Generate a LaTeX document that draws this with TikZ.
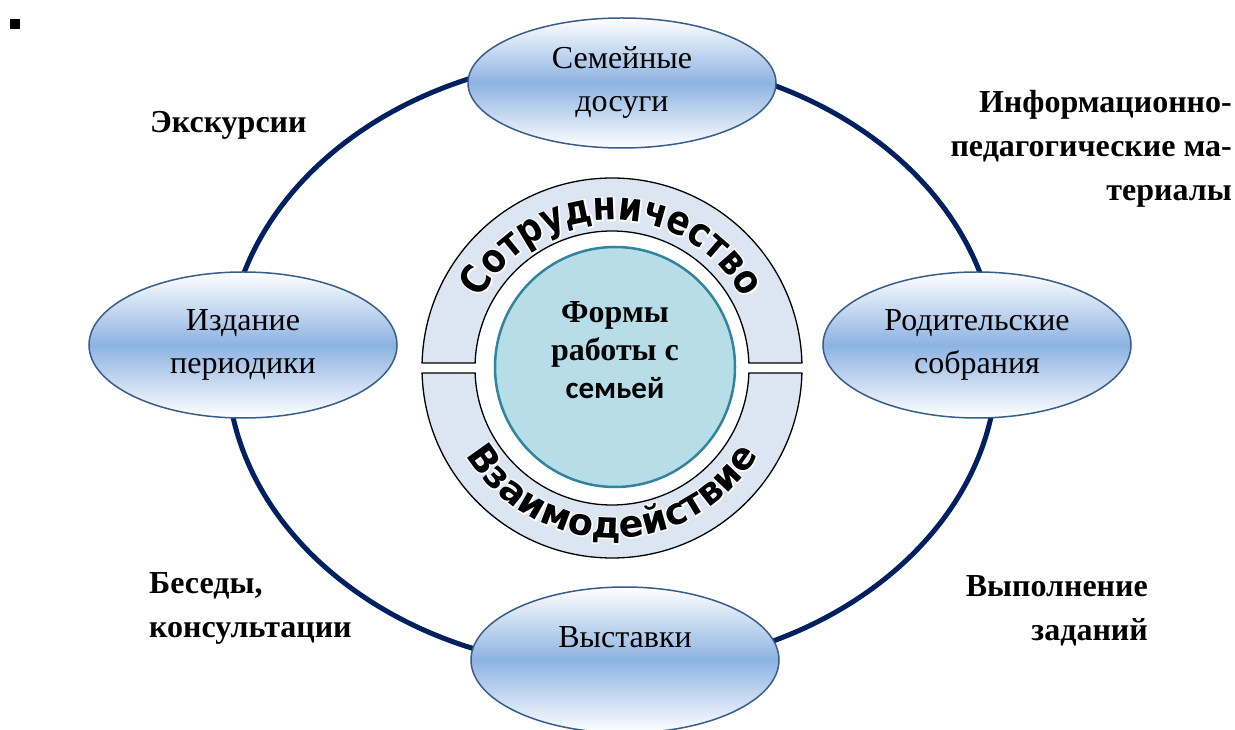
\documentclass[tikz,border=0pt]{standalone}
\usepackage{fontspec}
\setmainfont{Liberation Serif}
\newfontfamily\arcA{DejaVu Sans Bold}[FakeStretch=0.85]
\newfontfamily\arcAh{DejaVu Sans Bold}[FakeStretch=0.85,FakeBold=7]
\newfontfamily\arcB{DejaVu Sans Bold}[FakeStretch=0.99]
\newfontfamily\arcBh{DejaVu Sans Bold}[FakeStretch=0.99,FakeBold=7]
\newfontfamily\calfamily{Carlito}
\usetikzlibrary{decorations.text,shapes.geometric}
\definecolor{navy}{RGB}{0,32,96}
\definecolor{ellborder}{RGB}{56,93,138}
\definecolor{ellmid}{RGB}{141,179,226}
\definecolor{ringfill}{RGB}{220,230,242}
\definecolor{corefill}{RGB}{183,221,232}
\definecolor{coreline}{RGB}{49,132,155}
\begin{document}
\begin{tikzpicture}[x=1pt,y=1pt,
  form/.style={ellipse, draw=ellborder, line width=1.5pt, top color=white,
    bottom color=white, middle color=ellmid, minimum width=308pt,
    minimum height=146pt, inner sep=0pt, align=center,
    font=\fontsize{32}{43}\selectfont},
  formtext/.style={inner sep=0pt, align=center, font=\fontsize{32}{43}\selectfont},
  lab/.style={inner sep=0pt, font=\fontsize{32}{44}\selectfont\bfseries},
  piece/.style={draw=black, line width=1.3pt, fill=ringfill},
  coretext/.style={inner sep=0pt, font=\fontsize{32}{37}\selectfont\bfseries}]
\useasboundingbox (0,0) rectangle (1235,729);
% small square
\fill[black] (10,700) rectangle (20,710);
% big navy ring
\draw[navy, line width=5pt] (612,366) ellipse [x radius=385, y radius=306];
% ellipses
\node[form, minimum height=130pt] (sem) at (622,646) {Семейные\\досуги};
\node[form] (izd) at (243,384) {Издание\\периодики};
\node[form] (rod) at (977,384) {Родительские\\собрания};
\node[form] (vys) at (625,69) {};
\node[formtext] (vyst) at (625,92) {Выставки};
% labels
\node[lab, anchor=west] (exc) at (150,604) {Экскурсии};
\node[lab, anchor=east, align=right] (inf) at (1232,580) {Информационно-\\педагогические ма-\\териалы};
\node[lab, anchor=west, align=left] (bes) at (149,121) {Беседы,\\консультации};
\node[lab, anchor=east, align=right] (vyp) at (1148,118) {Выполнение\\заданий};
% centre ring
\draw[piece] ([shift={(1.5:190)}]612,361) arc[start angle=1.5, end angle=178.5, radius=190]
  -- ([shift={(177.9:137)}]612,361) arc[start angle=177.9, end angle=2.1, radius=137] -- cycle;
\draw[piece] ([shift={(-1.5:190)}]612,361) arc[start angle=-1.5, end angle=-178.5, radius=190]
  -- ([shift={(-177.9:137)}]612,361) arc[start angle=-177.9, end angle=-2.1, radius=137] -- cycle;
% arc texts: white halo, then black text
\path[decorate, decoration={text along path, text align=center, text color=white,
    text={|\fontsize{40}{40}\selectfont\arcAh|Сотрудничество}}]
  ([shift={(160:148)}]612,361) arc[start angle=160, end angle=20, radius=148];
\path[decorate, decoration={text along path, text align=center, text color=black,
    text={|\fontsize{40}{40}\selectfont\arcA|Сотрудничество}}]
  ([shift={(160:148)}]612,361) arc[start angle=160, end angle=20, radius=148];
\path[decorate, decoration={text along path, text align=center, text color=white,
    text={|\fontsize{37}{37}\selectfont\arcBh|Взаимодействие}}]
  ([shift={(198:170)}]612,361) arc[start angle=198, end angle=342, radius=170];
\path[decorate, decoration={text along path, text align=center, text color=black,
    text={|\fontsize{37}{37}\selectfont\arcB|Взаимодействие}}]
  ([shift={(198:170)}]612,361) arc[start angle=198, end angle=342, radius=170];
% core
\node[circle, draw=coreline, line width=2.5pt, fill=corefill, minimum size=240pt, inner sep=0pt] (core) at (615,362) {};
\node[coretext] (t1) at (615,414) {Формы};
\node[coretext] (t2) at (615,377) {работы с};
\node[coretext, font=\fontsize{31}{37}\selectfont\calfamily\bfseries] (t3) at (615,341) {семьей};
\end{tikzpicture}
\end{document}
